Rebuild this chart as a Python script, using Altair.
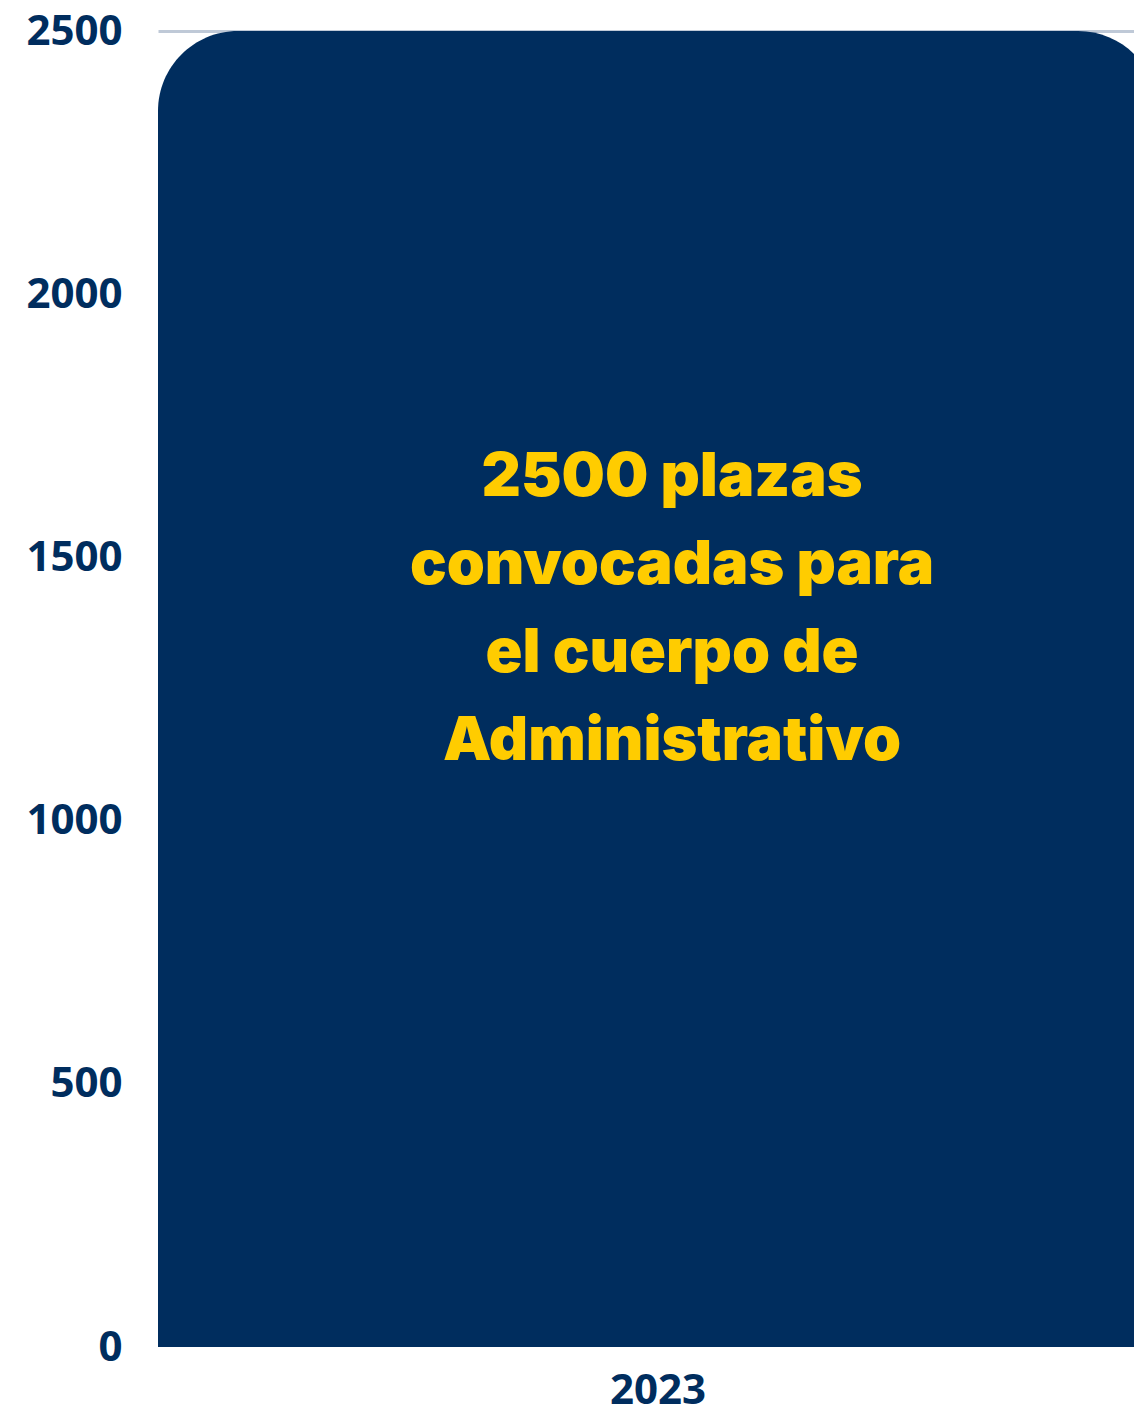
import altair as alt
import pandas as pd

years = ["2023"]
plazas = [2500]
note_lines = ["2500 plazas", "convocadas para", "el cuerpo de", "Administrativo"]
note_y = [1650]

bars = pd.DataFrame({"year": years, "plazas": plazas})
notes = pd.DataFrame({"year": years, "y": note_y, "label": [note_lines]})

NAVY = "#002D5E"
YELLOW = "#FFCC00"

x = alt.X("year:N", title=None,
          scale=alt.Scale(paddingInner=0, paddingOuter=0, range=[0, 1000]),
          axis=alt.Axis(labelAngle=0, labelFont="Open Sans", labelFontWeight="bold",
                        labelFontSize=42, labelColor=NAVY, ticks=False, domain=False,
                        labelPadding=23, grid=False))

bar = alt.Chart(bars).mark_bar(color=NAVY, cornerRadiusTopLeft=80, cornerRadiusTopRight=80).encode(
    x=x,
    y=alt.Y("plazas:Q", title=None,
            scale=alt.Scale(domain=[0, 2500], nice=False),
            axis=alt.Axis(values=[0, 500, 1000, 1500, 2000, 2500], format="d",
                          labelFont="Open Sans",
                          labelFontWeight="bold", labelFontSize=42, labelColor=NAVY,
                          ticks=False, domain=False, labelPadding=36,
                          gridColor=alt.condition(alt.datum.value == 0,
                                                  alt.value("transparent"),
                                                  alt.value("#BFC9D7")),
                          gridWidth=3, gridOpacity=1)),
)

text = alt.Chart(notes).mark_text(
    color=YELLOW, font="Inter", fontWeight=900, fontSize=61, lineHeight=88,
    align="center", baseline="middle", dx=14,
).encode(
    x=alt.X("year:N"),
    y=alt.Y("y:Q"),
    text="label",
)

chart = (bar + text).properties(
    width=976, height=1316,
    autosize=alt.AutoSizeParams(type="none"),
    padding={"left": 158, "top": 31, "right": 0, "bottom": 65},
).configure_view(stroke=None)

chart.save("out.html", embed_options={"renderer": "svg", "actions": False})
